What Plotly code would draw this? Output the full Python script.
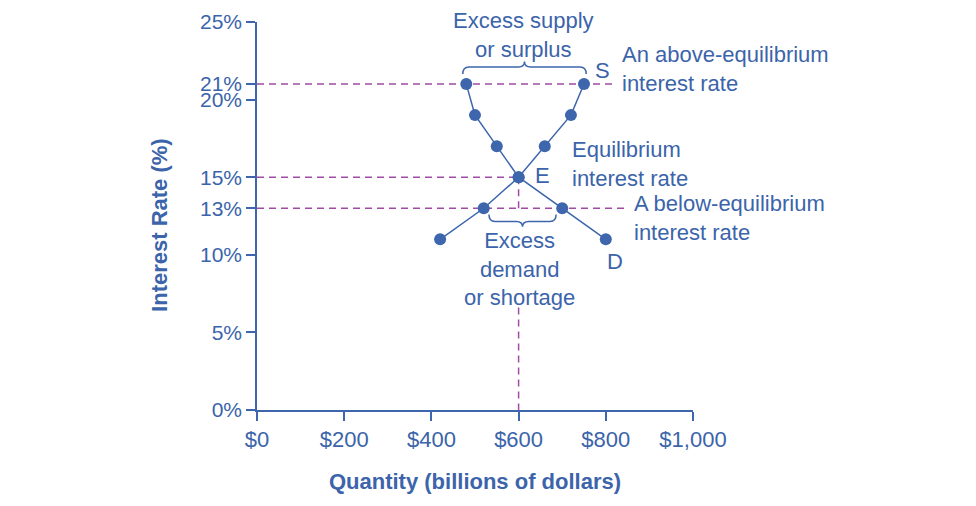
import plotly.graph_objects as go

# ---- data ----
interest_rate = [11, 13, 15, 17, 19, 21]          # %
quantity_demanded = [800, 700, 600, 550, 500, 480]  # $ billions
quantity_supplied = [420, 520, 600, 660, 720, 750]  # $ billions

x_tickvals = [0, 200, 400, 600, 800, 1000]
x_ticktext = ["$0", "$200", "$400", "$600", "$800", "$1,000"]
y_tickvals = [0, 5, 10, 13, 15, 20, 21, 25]
y_ticktext = ["0%", "5%", "10%", "13%", "15%", "20%", "21%", "25%"]

BLUE = "#3d66ad"
TEXT = "#3b64aa"
PURPLE = "#a04ca3"
FONT = "Arial, Liberation Sans, sans-serif"
FS = 22

fig = go.Figure()

fig.add_trace(go.Scatter(x=quantity_supplied, y=interest_rate, mode="lines+markers",
                         line=dict(color=BLUE, width=1.5), marker=dict(color=BLUE, size=12),
                         name="Supply", cliponaxis=False, showlegend=False))
fig.add_trace(go.Scatter(x=quantity_demanded, y=interest_rate, mode="lines+markers",
                         line=dict(color=BLUE, width=1.5), marker=dict(color=BLUE, size=12),
                         name="Demand", cliponaxis=False, showlegend=False))

eq_q = quantity_demanded[interest_rate.index(15)]
hi_r, lo_r, eq_r = 21, 13, 15
dash = dict(color=PURPLE, width=1.5, dash="7px,5px")

shapes = [
    dict(type="line", xref="x", yref="y", x0=0, x1=815, y0=hi_r, y1=hi_r, line=dash, layer="below"),
    dict(type="line", xref="x", yref="y", x0=0, x1=eq_q, y0=eq_r, y1=eq_r, line=dash, layer="below"),
    dict(type="line", xref="x", yref="y", x0=0, x1=845, y0=lo_r, y1=lo_r, line=dash, layer="below"),
    dict(type="line", xref="x", yref="y", x0=eq_q, x1=eq_q, y0=eq_r, y1=lo_r, line=dash, layer="below"),
    dict(type="line", xref="x", yref="y", x0=eq_q, x1=eq_q, y0=6.6, y1=0, line=dash, layer="below"),
]


def brace(x0, x1, yb, ym, ytip, r):
    xm = (x0 + x1) / 2
    return (f"M {x0},{yb} Q {x0},{ym} {x0 + r},{ym} L {xm - r},{ym} "
            f"Q {xm},{ym} {xm},{ytip} Q {xm},{ym} {xm + r},{ym} "
            f"L {x1 - r},{ym} Q {x1},{ym} {x1},{yb}")


# surplus brace (over the 21% points)
qd_hi = quantity_demanded[interest_rate.index(hi_r)]
qs_hi = quantity_supplied[interest_rate.index(hi_r)]
shapes.append(dict(type="path", xref="x", yref="y",
                   path=brace(qd_hi - 8, qs_hi + 5, 21.65, 22.1, 22.45, 14),
                   line=dict(color=BLUE, width=1.5)))
# shortage brace (under the 13% points)
qs_lo = quantity_supplied[interest_rate.index(lo_r)]
qd_lo = quantity_demanded[interest_rate.index(lo_r)]
shapes.append(dict(type="path", xref="x", yref="y",
                   path=brace(qs_lo + 12, qd_lo - 14, 12.6, 12.15, 11.8, 14),
                   line=dict(color=BLUE, width=1.5)))

tf = dict(family=FONT, size=FS, color=TEXT)
annotations = [
    dict(x=611, y=24.16, text="Excess supply<br>or surplus", xanchor="center", yanchor="middle"),
    dict(x=792, y=21.9, text="S", xanchor="center", yanchor="middle"),
    dict(x=833, y=21.97, text="An above-equilibrium<br>interest rate", xanchor="left", yanchor="middle", align="left"),
    dict(x=719, y=15.82, text="Equilibrium<br>interest rate", xanchor="left", yanchor="middle", align="left"),
    dict(x=654, y=15.08, text="E", xanchor="center", yanchor="middle"),
    dict(x=861, y=12.34, text="A below-equilibrium<br>interest rate", xanchor="left", yanchor="middle", align="left"),
    dict(x=822, y=9.54, text="D", xanchor="center", yanchor="middle"),
    dict(x=602, y=9.09, text="Excess<br>demand<br>or shortage", xanchor="center", yanchor="middle"),
]
for a in annotations:
    a.update(xref="x", yref="y", showarrow=False, font=tf)

# y-axis title as a rotated annotation (placed slightly below the plot centre, as in the original)
annotations.append(dict(xref="paper", yref="paper", x=-0.2225, y=0.477, xanchor="center", yanchor="middle",
                        text="<b>Interest Rate (%)</b>", textangle=-90, showarrow=False, font=tf))

axis_common = dict(showgrid=False, zeroline=False, showline=True, linecolor=BLUE, linewidth=1.5,
                   ticks="outside", ticklen=9, tickwidth=1.5, tickcolor=BLUE, automargin=False)

fig.update_layout(
    width=976, height=506,
    margin=dict(l=249, r=291, t=14, b=104),
    paper_bgcolor="white", plot_bgcolor="white",
    shapes=shapes, annotations=annotations, showlegend=False,
    xaxis=dict(range=[0, 1000], tickvals=x_tickvals, ticktext=x_ticktext,
               tickfont=dict(family=FONT, size=FS, color=TEXT),
               title=dict(text="<b>Quantity (billions of dollars)</b>", standoff=22,
                          font=dict(family=FONT, size=FS, color=TEXT)),
               **axis_common),
    yaxis=dict(range=[0, 25], tickvals=y_tickvals, ticktext=y_ticktext,
               tickfont=dict(family=FONT, size=21, color=TEXT),
               **axis_common),
)

fig.write_html("out.html")
